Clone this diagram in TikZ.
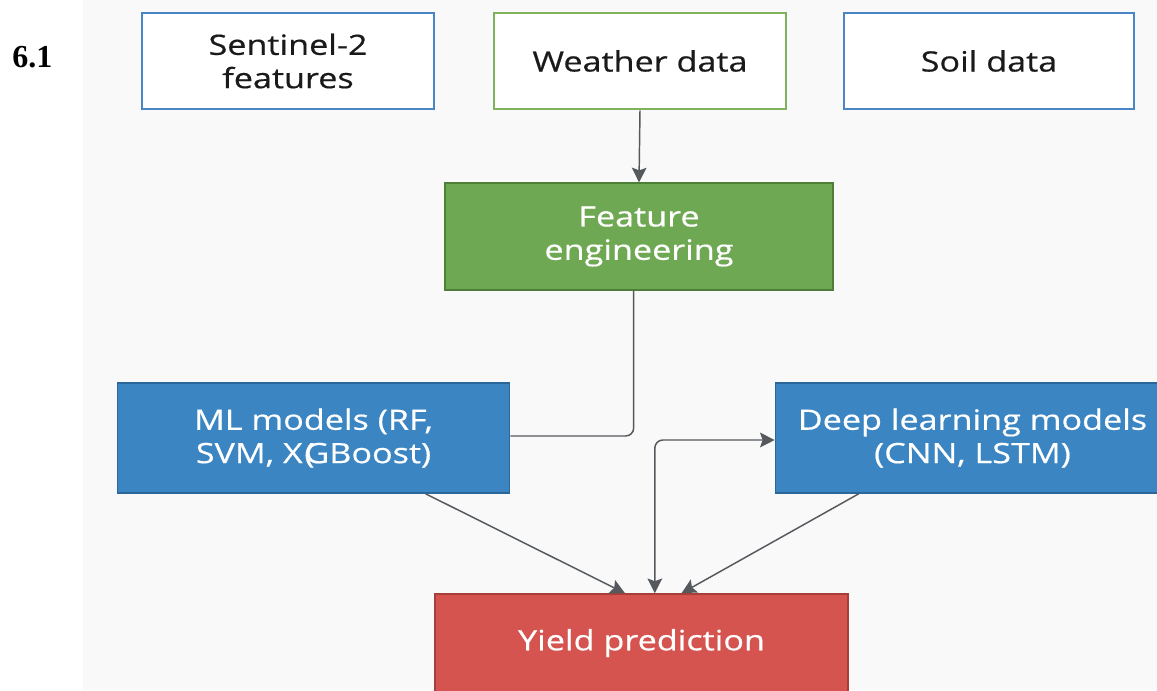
\documentclass[tikz,border=0pt]{standalone}
\usepackage{fontspec}
\usepackage{tikz}
\usetikzlibrary{positioning,arrows.meta,calc}
\newfontfamily\boxfont{Open Sans}[FakeStretch=1.22,FakeBold=0.5]
\newfontfamily\numfont{Liberation Serif}
\definecolor{paper}   {HTML}{F9F9F9}
\definecolor{blue500} {HTML}{4A86C6}
\definecolor{blue600} {HTML}{3B86C2}
\definecolor{blue800} {HTML}{2B679A}
\definecolor{green400}{HTML}{7FB25C}
\definecolor{green500}{HTML}{6FA853}
\definecolor{green700}{HTML}{4E7F39}
\definecolor{red500}  {HTML}{D55450}
\definecolor{red700}  {HTML}{A63E39}
\definecolor{grey700} {HTML}{55595D}
\definecolor{ink}     {HTML}{1A1A1A}
\tikzset{
  inp/.style  ={draw=blue500, line width=2pt, fill=white, text=ink,
                align=center, inner sep=0pt, minimum width=219pt,
                minimum height=72pt, font=\boxfont\fontsize{21}{25}\selectfont},
  inpg/.style ={inp, draw=green400},
  feng/.style ={draw=green700, line width=1.2pt, fill=green500, text=white,
                align=center, inner sep=0pt, minimum width=291pt,
                minimum height=80pt, font=\boxfont\fontsize{21}{25}\selectfont},
  mdl/.style  ={feng, draw=blue800, fill=blue600, minimum width=294pt,
                minimum height=82.5pt},
  res/.style  ={feng, draw=red700, fill=red500, minimum width=310pt,
                minimum height=73.5pt},
  ar/.style   ={-{Stealth[length=11pt,width=11pt,inset=2pt]},
                draw=grey700, line width=1.1pt},
  arl/.style  ={draw=grey700, line width=1.1pt}
}
\begin{document}
\begin{tikzpicture}[x=0.75pt,y=-0.75pt]
\useasboundingbox (0,0) rectangle (1157,690);
\fill[paper] (83,0) rectangle (1157,690);

\node[font=\numfont\bfseries\fontsize{24}{28}\selectfont, anchor=base west,
      inner sep=0pt] (num) at (12,67) {6.1};

% sources
\node[inp]  (s2)      at (288,61)  {Sentinel-2\\features};
\node[inpg] (weather) at (640,61)  {Weather data};
\node[inp, minimum width=217.5pt] (soil) at (989,61) {Soil data};

\node[feng] (fe) at (639,236.5) {Feature\\engineering};

% models
\node[mdl] (ml) at (313.5,438)
  {ML models (RF,\\SVM, X\kern0.06em(\kern-0.36em GBoost)};
\node[mdl, minimum width=295.5pt] (dl) at (972.5,438)
  {Deep learning models\\(CNN, LSTM)};

\node[res] (yield) at (641.5,643) {Yield prediction};

\draw[ar] (weather.south) -- (fe.north);
\draw[arl, rounded corners=6pt] ([xshift=-4pt]fe.south) |- ([yshift=1.5pt]ml.east);
\draw[ar] ($(ml.south west)!0.785!(ml.south east)$)
  -- ([xshift=-12.4pt]yield.north);
\draw[arl, {Stealth[length=11pt,width=11pt,inset=2pt]}-{Stealth[length=11pt,width=11pt,inset=2pt]},
      rounded corners=6pt]
  ([xshift=10pt]yield.north) |- ([yshift=-1.5pt]dl.west);
\draw[ar] ([xshift=63pt]dl.south west) -- ([xshift=30pt]yield.north);
\end{tikzpicture}
\end{document}
